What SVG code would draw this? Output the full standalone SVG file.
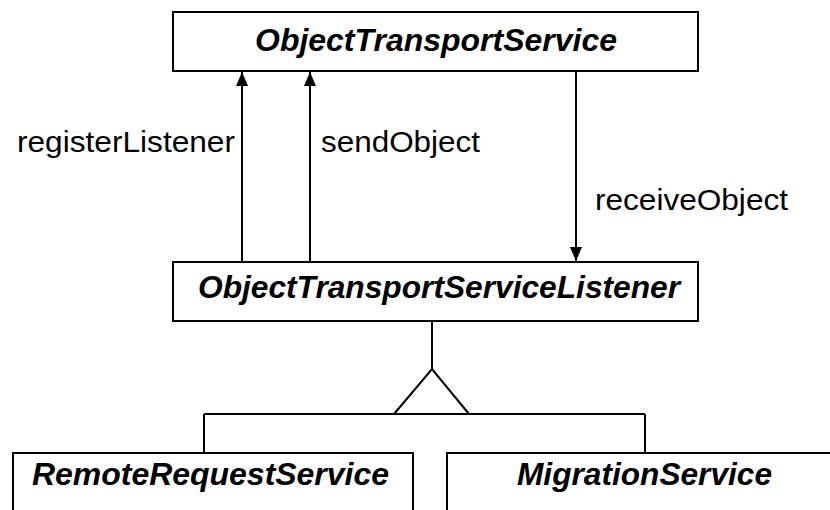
<svg xmlns="http://www.w3.org/2000/svg" width="830" height="510" viewBox="0 0 830 510">
  <style>
    .box { fill: #ffffff; stroke: #000000; stroke-width: 2; }
    .cls { font-family: "Liberation Sans", Arial, sans-serif; font-weight: bold; font-style: italic; font-size: 31px; fill: #000000; }
    .lbl { font-family: "Liberation Sans", Arial, sans-serif; font-size: 29px; fill: #000000; }
    .ln { fill: none; stroke: #000000; stroke-width: 2; }
  </style>
  <defs>
    <marker id="arrow" viewBox="0 0 14 12" refX="14" refY="6" markerWidth="14" markerHeight="12" markerUnits="userSpaceOnUse" orient="auto">
      <path d="M0,0 L14,6 L0,12 Z" fill="#000000"/>
    </marker>
  </defs>

  <g id="ObjectTransportService">
    <rect class="box" x="173" y="12" width="525" height="59"/>
    <text class="cls" x="255" y="51" textLength="362" lengthAdjust="spacingAndGlyphs">ObjectTransportService</text>
  </g>

  <g id="ObjectTransportServiceListener">
    <rect class="box" x="173" y="262" width="525" height="59"/>
    <text class="cls" x="198" y="298" textLength="482" lengthAdjust="spacingAndGlyphs">ObjectTransportServiceListener</text>
  </g>

  <g id="RemoteRequestService">
    <rect class="box" x="13" y="453" width="400" height="70"/>
    <text class="cls" x="32" y="485" textLength="357" lengthAdjust="spacingAndGlyphs">RemoteRequestService</text>
  </g>

  <g id="MigrationService">
    <rect class="box" x="447" y="453" width="400" height="70"/>
    <text class="cls" x="517" y="485" textLength="255" lengthAdjust="spacingAndGlyphs">MigrationService</text>
  </g>

  <g id="connectors">
    <line class="ln" x1="242" y1="262" x2="242" y2="72" marker-end="url(#arrow)"/>
    <line class="ln" x1="310" y1="262" x2="310" y2="72" marker-end="url(#arrow)"/>
    <line class="ln" x1="576" y1="71" x2="576" y2="261" marker-end="url(#arrow)"/>
    <line class="ln" x1="432" y1="321" x2="432" y2="369"/>
    <path class="ln" d="M394,414 L432,369 L469,414"/>
    <line class="ln" x1="204" y1="414" x2="645" y2="414"/>
    <line class="ln" x1="204" y1="414" x2="204" y2="453"/>
    <line class="ln" x1="645" y1="414" x2="645" y2="453"/>
    <text class="lbl" x="17" y="152" textLength="218" lengthAdjust="spacingAndGlyphs">registerListener</text>
    <text class="lbl" x="321" y="152" textLength="159" lengthAdjust="spacingAndGlyphs">sendObject</text>
    <text class="lbl" x="595" y="210" textLength="193" lengthAdjust="spacingAndGlyphs">receiveObject</text>
  </g>
</svg>
